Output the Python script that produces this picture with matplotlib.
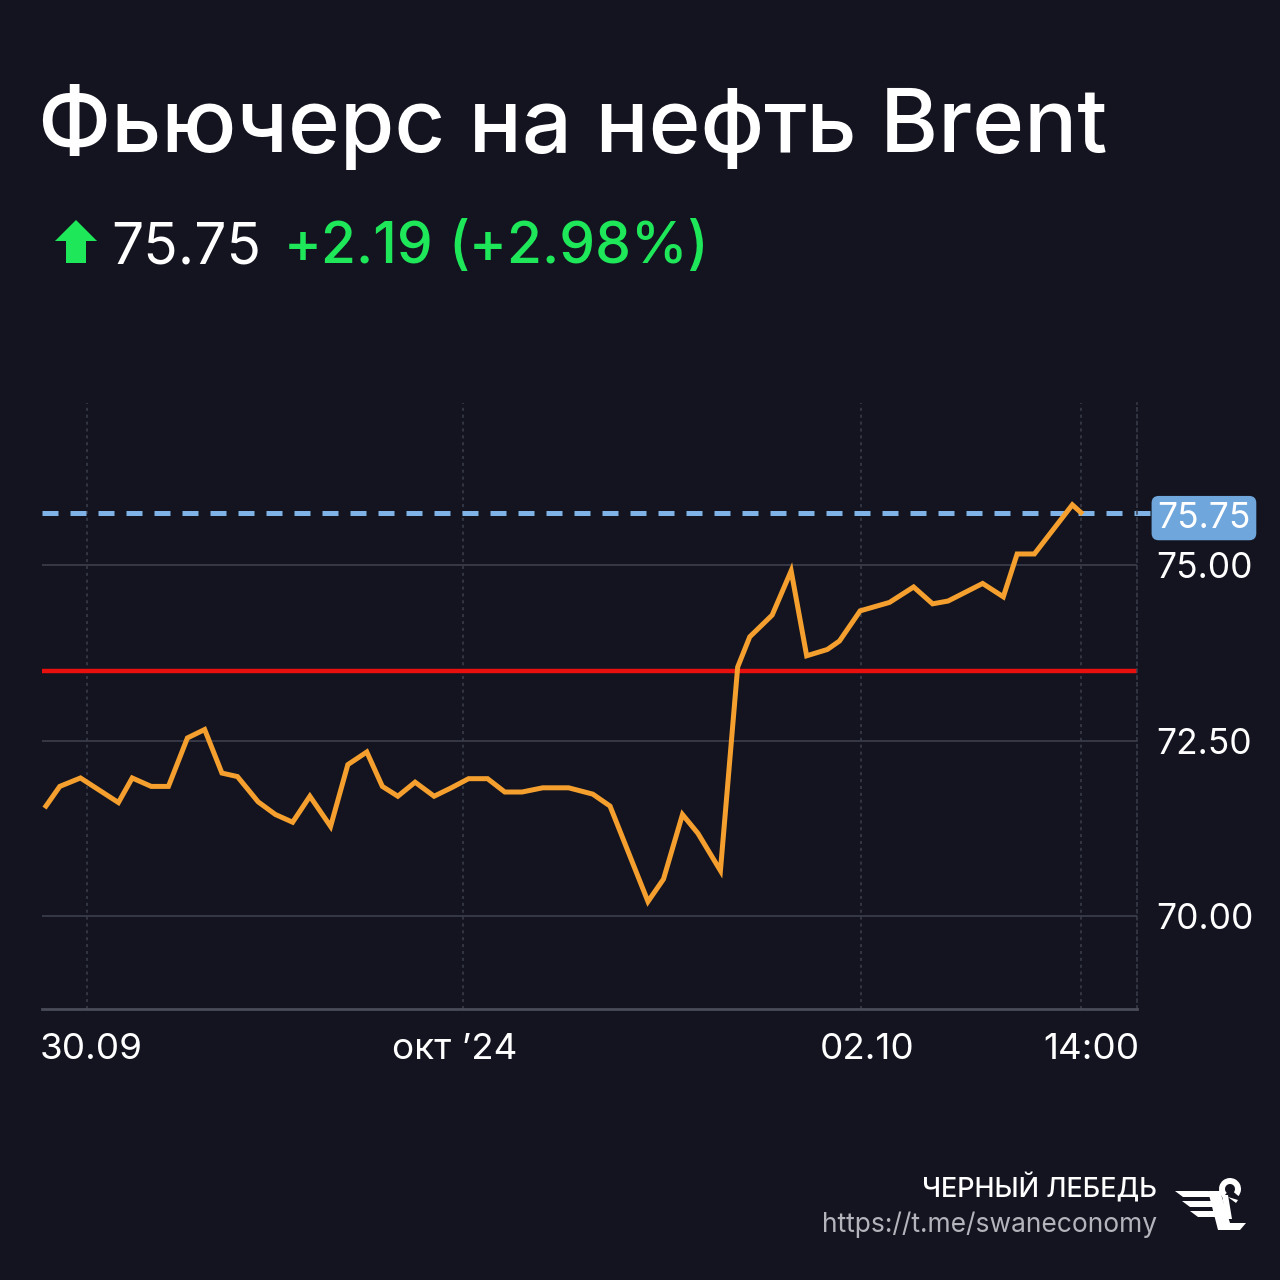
import matplotlib
matplotlib.use("Agg")
import matplotlib.pyplot as plt
from matplotlib.patches import Polygon, Wedge
from matplotlib.transforms import ScaledTranslation

# ---------------- data ----------------
bar_pos = [0, 0.8, 2.0, 4.2, 5.0, 6.1, 7.1, 8.2, 9.2, 10.2, 11.1, 12.3, 13.3, 14.3,
           15.3, 16.5, 17.5, 18.6, 19.5, 20.4, 21.4, 22.5, 23.5, 24.5, 25.6, 26.6,
           27.6, 28.8, 30.3, 31.7, 32.7, 34.9, 35.8, 36.9, 37.8, 39.1, 40.1, 40.8,
           42.1, 43.2, 44.1, 45.3, 46.0, 47.2, 48.9, 50.3, 51.4, 52.3, 54.3, 55.5,
           56.3, 57.3, 59.5, 60.0]
price = [71.57, 71.85, 71.97, 71.62, 71.97, 71.85, 71.85, 72.54, 72.66, 72.04,
         71.99, 71.63, 71.45, 71.34, 71.71, 71.28, 72.16, 72.34, 71.85, 71.71,
         71.91, 71.71, 71.83, 71.96, 71.96, 71.77, 71.77, 71.83, 71.83, 71.74,
         71.57, 70.21, 70.53, 71.45, 71.18, 70.65, 73.55, 73.98, 74.29, 74.92,
         73.71, 73.80, 73.92, 74.35, 74.47, 74.69, 74.45, 74.49, 74.74, 74.55,
         75.16, 75.16, 75.86, 75.75]
last_price = 75.75
ref_level = 73.50
change = "+2.19"
change_pct = "(+2.98%)"
x_tick_pos = [2.4, 24.2, 47.25, 60.0]
x_tick_labels = ["30.09", "окт \u201924", "02.10", "14:00"]
y_ticks = [70.0, 72.5, 75.0]
y_tick_labels = ["70.00", "72.50", "75.00"]
title = "Фьючерс на нефть Brent"
brand = "ЧЕРНЫЙ ЛЕБЕДЬ"
link = "https://t.me/swaneconomy"

# ---------------- style ----------------
BG = "#13141f"
GRID = "#3d3f4d"
ORANGE = "#f5a02e"
RED = "#e80f0f"
BLUE = "#7fb2e6"
GREEN = "#1ee85a"
FONT = ["Inter", "DejaVu Sans"]

plt.rcParams["font.family"] = FONT

W = H = 1280
fig = plt.figure(figsize=(12.8, 12.8), dpi=100, facecolor=BG)

def fx(px):
    return px / W

def fy(py):
    return 1 - py / H

ax = fig.add_axes([fx(42), fy(1009), fx(1137) - fx(42), fy(403) - fy(1009)])
ax.set_facecolor(BG)
ax.set_xlim(-0.23, 63.25)
ax.set_ylim(68.68, 77.31)

# grid
for yv in y_ticks:
    ax.axhline(yv, color=GRID, lw=1.2, zorder=1)
for xv in x_tick_pos:
    ax.axvline(xv, color=GRID, lw=1.1, ls=(0, (2, 2.5)), zorder=1)

# reference line
ax.axhline(ref_level, color=RED, lw=3.2, zorder=2)
# last price dashed
ax.axhline(last_price, xmin=0, xmax=1.014, color=BLUE, lw=3.6,
           ls=(0, (3.2, 2.4)), zorder=2, clip_on=False)
# series
ax.plot(bar_pos, price, color=ORANGE, lw=3.6, solid_joinstyle="miter", zorder=3)

# spines
for s in ["top", "left"]:
    ax.spines[s].set_visible(False)
ax.spines["bottom"].set_color("#4a4c5a")
ax.spines["bottom"].set_linewidth(2)
ax.spines["right"].set_color(GRID)
ax.spines["right"].set_linewidth(1.1)
ax.spines["right"].set_linestyle((0, (2, 2.5)))

ax.yaxis.tick_right()
ax.set_yticks(y_ticks)
ax.set_yticklabels(y_tick_labels)
ax.set_xticks(x_tick_pos)
ax.set_xticklabels(x_tick_labels)
ax.tick_params(axis="both", length=0, colors="white", labelsize=25.5)
ax.tick_params(axis="y", pad=14)
ax.tick_params(axis="x", pad=17, labelsize=26.5)

# small horizontal nudges of x labels (in points)
for lab, dx in zip(ax.get_xticklabels(), [2.5, -6.5, 4.5, 7.5]):
    lab.set_transform(lab.get_transform() + ScaledTranslation(dx / 72, 0, fig.dpi_scale_trans))

# price tag
ax.text(1.0185, last_price, f"{last_price:.2f}", transform=ax.get_yaxis_transform()
        + ScaledTranslation(0, -4 / 72, fig.dpi_scale_trans),
        ha="left", va="center", fontsize=25.5, color="white", zorder=5,
        bbox=dict(boxstyle="round,pad=0.16,rounding_size=0.2", fc="#6fa6dc", ec="none"),
        clip_on=False)

# title
fig.text(fx(38), fy(152), title, fontsize=63.5, color="white", fontweight="medium",
         ha="left", va="baseline")

# subtitle
arrow = Polygon([[fx(55), fy(241)], [fx(76), fy(220)], [fx(97), fy(241)],
                 [fx(86), fy(241)], [fx(86), fy(263)], [fx(66), fy(263)],
                 [fx(66), fy(241)]], closed=True, transform=fig.transFigure,
                fc=GREEN, ec="none")
fig.patches.append(arrow)
fig.text(fx(111), fy(263), f"{last_price:.2f}", fontsize=41, color="white",
         ha="left", va="baseline")
fig.text(fx(284), fy(263), change, fontsize=41, color=GREEN, fontweight="medium",
         ha="left", va="baseline")
fig.text(fx(448), fy(263), change_pct, fontsize=41, color=GREEN, fontweight="medium",
         ha="left", va="baseline")

# footer
fig.text(fx(1157), fy(1197), brand, fontsize=19.5, color="white", fontweight="medium",
         ha="right", va="baseline")
fig.text(fx(1157), fy(1232), link, fontsize=19, color="#b4b4bc",
         ha="right", va="baseline")

# logo (simplified swan)
lx = fig.add_axes([fx(1170), fy(1235), fx(85), fx(60)])
lx.set_xlim(0, 85)
lx.set_ylim(0, 60)
lx.axis("off")
for y0, x0, x1 in [(38, 5, 38), (28, 12, 42), (18, 20, 46)]:
    lx.add_patch(Polygon([[x0, y0 + 6], [x1, y0 + 6], [x1 + 6, y0], [x0 + 8, y0]],
                         closed=True, fc="white", ec="none"))
lx.add_patch(Polygon([[38, 44], [50, 44], [60, 12], [76, 12], [70, 5], [48, 5]],
                     closed=True, fc="white", ec="none"))
lx.add_patch(Wedge((60, 46), 11, -40, 230, width=6, fc="white", ec="none"))
lx.add_patch(Polygon([[52, 40], [58, 40], [62, 16], [56, 16]], closed=True, fc="white", ec="none"))
lx.add_patch(Polygon([[58, 38], [68, 35], [66, 32]], closed=True, fc="white", ec="none"))

fig.savefig("out.png", dpi=100, facecolor=BG)
